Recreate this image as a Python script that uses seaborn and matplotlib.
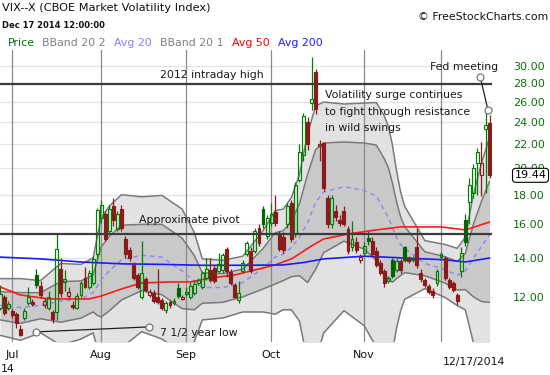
import numpy as np
import pandas as pd
import matplotlib
matplotlib.use("Agg")
import matplotlib.pyplot as plt
import matplotlib.transforms as mtransforms
from matplotlib.ticker import NullLocator, FixedLocator
import seaborn as sns

# ---------------- data ----------------
holidays = ["2014-07-04", "2014-09-01", "2014-11-27"]
dates = [d for d in pd.bdate_range("2014-06-26", "2014-12-17") if d.strftime("%Y-%m-%d") not in holidays]

opens = [11.5, 12.0, 11.5, 11.35, 11.2, 10.55, 11.05, 11.7, 11.75, 13.1,
         12.55, 11.6, 11.5, 11.3, 11.3, 13.4, 12.75, 12.05, 11.6, 11.5,
         12.1, 12.95, 12.5, 12.7, 14.2, 16.4, 16.7, 15.6, 17.2, 15.7,
         17.0, 15.1, 14.45, 13.6, 13.1, 12.0, 12.9, 12.1, 12.2, 12.0,
         11.85, 11.4, 11.75, 11.7, 12.45, 11.9, 12.15, 12.0, 12.2, 12.7,
         12.5, 12.95, 13.35, 13.45, 13.3, 13.35, 14.5, 13.25, 12.6, 11.85,
         13.3, 14.2, 14.4, 14.4, 15.8, 17.0, 15.3, 16.1, 16.8, 15.4,
         15.2, 16.0, 17.4, 15.4, 19.1, 21.1, 24.0, 25.9, 29.3, 21.8,
         22.1, 17.8, 16.0, 16.9, 16.3, 16.9, 15.7, 14.6, 14.9, 13.9,
         14.3, 15.15, 15.0, 14.4, 13.7, 13.3, 12.8, 13.9, 13.35, 13.85,
         14.6, 14.0, 13.9, 14.6, 13.2, 12.85, 12.55, 12.3, 12.7, 14.05,
         14.0, 12.85, 12.7, 12.1, 13.3, 16.3, 17.5, 18.1, 20.4, 19.5,
         23.4, 23.9]
highs = [12.6, 12.1, 11.8, 11.45, 11.3, 10.75, 11.5, 12.5, 11.9, 13.4,
         12.8, 11.95, 12.3, 11.4, 15.4, 14.0, 13.35, 12.5, 11.8, 12.2,
         12.8, 13.5, 13.35, 14.1, 17.1, 17.6, 16.9, 17.3, 17.8, 16.9,
         17.3, 15.3, 14.6, 13.8, 13.2, 15.0, 13.0, 12.4, 12.35, 13.4,
         11.95, 11.8, 11.85, 11.95, 12.7, 12.1, 12.5, 12.75, 12.8, 12.95,
         13.3, 14.0, 14.0, 13.6, 14.3, 14.3, 14.6, 13.4, 12.7, 12.8,
         13.9, 15.0, 14.6, 15.8, 16.0, 17.2, 16.6, 17.4, 18.0, 15.6,
         15.5, 17.4, 17.6, 18.9, 22.0, 24.9, 24.5, 31.06, 29.6, 22.4,
         22.2, 18.0, 18.0, 17.3, 16.6, 17.2, 15.9, 16.2, 15.2, 14.2,
         14.9, 15.6, 15.2, 14.6, 13.9, 13.4, 13.05, 14.0, 14.0, 13.95,
         14.7, 14.1, 14.1, 15.75, 13.4, 12.95, 12.65, 12.45, 13.4, 14.35,
         14.1, 12.95, 12.8, 12.2, 14.6, 16.7, 19.2, 20.3, 21.7, 22.2,
         25.2, 24.7]
lows = [11.4, 11.15, 11.4, 11.05, 10.6, 10.28, 10.95, 11.6, 11.55, 12.45,
        11.95, 11.5, 11.4, 10.8, 10.95, 12.0, 12.3, 11.95, 11.45, 11.45,
        12.0, 12.45, 12.4, 12.6, 13.9, 16.1, 15.0, 15.4, 15.9, 15.6,
        15.6, 14.0, 13.85, 12.85, 12.4, 11.9, 12.25, 12.0, 11.7, 11.65,
        11.4, 11.25, 11.5, 11.6, 11.95, 11.85, 12.05, 11.9, 12.1, 12.6,
        12.4, 12.85, 12.75, 12.7, 13.2, 13.2, 13.0, 12.6, 11.95, 11.7,
        13.2, 14.1, 13.2, 14.3, 14.7, 15.8, 15.1, 15.9, 15.9, 14.4,
        14.3, 15.8, 14.9, 15.2, 18.9, 20.6, 21.5, 25.2, 24.8, 20.6,
        18.3, 15.8, 15.8, 16.2, 15.9, 15.9, 14.2, 14.4, 14.3, 13.75,
        14.1, 14.75, 14.1, 13.5, 13.1, 12.5, 12.7, 12.95, 13.25, 13.2,
        13.8, 13.75, 13.8, 13.45, 12.75, 12.5, 12.15, 11.95, 12.55, 13.9,
        12.85, 12.4, 12.25, 11.6, 13.0, 14.7, 16.0, 17.8, 18.0, 17.9,
        18.1, 19.2]
closes = [12.15, 11.25, 11.65, 11.15, 10.82, 10.32, 11.33, 11.98, 11.65, 12.6,
          12.08, 11.82, 12.0, 11.0, 14.5, 12.2, 12.9, 12.24, 11.52, 12.05,
          12.69, 12.5, 13.2, 13.95, 16.95, 17.3, 15.12, 17.0, 16.3, 16.66,
          15.77, 14.2, 14.0, 12.95, 12.5, 13.2, 12.32, 12.21, 11.78, 11.76,
          11.47, 11.7, 11.63, 11.78, 12.05, 11.98, 12.25, 12.55, 12.64, 12.82,
          13.2, 13.4, 12.85, 12.8, 13.65, 14.15, 13.3, 12.7, 12.0, 12.2,
          13.7, 14.85, 13.3, 15.6, 14.85, 16.0, 16.4, 16.7, 16.1, 14.5,
          14.45, 17.2, 15.1, 18.7, 21.3, 24.6, 22.0, 26.3, 25.3, 22.0,
          18.5, 16.0, 17.8, 16.5, 16.1, 16.0, 14.4, 15.1, 14.45, 14.05,
          14.7, 14.95, 14.2, 13.6, 13.2, 12.7, 12.92, 13.05, 13.85, 13.35,
          13.9, 13.85, 13.96, 13.6, 12.9, 12.6, 12.25, 12.07, 13.3, 14.2,
          12.95, 12.5, 12.35, 11.8, 14.3, 14.9, 18.7, 20.0, 21.3, 20.4,
          23.7, 19.44]

# indicator readings (trading-day index of each reading)
band_idx = [0, 5, 10, 15, 20, 23, 24, 25, 27, 30, 35, 40, 45, 48, 50, 55, 60, 65, 68, 70,
            72, 74, 76, 78, 80, 85, 90, 93, 95, 96, 97, 98, 99, 100, 105, 110, 113, 115,
            117, 119, 121]
avg20 = [11.6, 11.5, 11.6, 11.8, 11.9, 12.2, 12.5, 12.85, 13.3, 13.9, 14.15, 14.05, 13.3, 12.77,
         12.45, 12.45, 12.7, 13.45, 14.05, 14.2, 14.6, 15.2, 16.1, 17.46, 18.2, 18.58, 18.3,
         17.89, 16.9, 16.44, 15.78, 15.2, 14.77, 14.54, 13.7, 13.37, 13.07, 13.3, 14.0, 14.65,
         15.36]
bb2_upper = [12.9, 12.9, 12.8, 13.7, 13.65, 14.0, 15.2, 16.4, 17.2, 18.0, 17.85, 17.95, 17.0,
             15.5, 13.95, 13.87, 14.1, 15.6, 16.9, 17.0, 17.8, 19.5, 22.9, 25.6, 26.0, 25.8,
             25.9, 25.95, 24.6, 23.6, 21.9, 19.8, 18.2, 17.2, 15.0, 14.77, 14.55, 15.2, 18.0,
             20.4, 22.6]
bb2_lower = [10.3, 10.1, 10.4, 9.9, 10.15, 10.4, 9.8, 9.3, 9.4, 9.8, 10.45, 10.15, 9.6, 10.04,
             10.95, 11.03, 11.3, 11.3, 11.2, 11.4, 11.4, 10.9, 9.3, 9.32, 10.4, 11.36, 10.7,
             9.83, 9.2, 9.28, 9.66, 10.6, 11.34, 11.88, 12.4, 11.97, 11.59, 11.4, 10.0, 8.9,
             8.12]
bb1_upper = [12.25, 12.2, 12.2, 12.75, 12.78, 13.1, 13.85, 14.63, 15.25, 15.95, 16.0, 16.0,
             15.15, 14.14, 13.2, 13.16, 13.4, 14.53, 15.48, 15.6, 16.2, 17.35, 19.5, 21.53,
             22.1, 22.19, 22.1, 21.92, 20.75, 20.02, 18.84, 17.5, 16.49, 15.87, 14.35, 14.07,
             13.81, 14.25, 16.0, 17.53, 18.98]
bb1_lower = [10.95, 10.8, 11.0, 10.85, 11.03, 11.3, 11.15, 11.08, 11.35, 11.85, 12.3, 12.1,
             11.45, 11.4, 11.7, 11.74, 12.0, 12.38, 12.63, 12.8, 13.0, 13.05, 12.7, 13.39,
             14.3, 14.97, 14.5, 13.86, 13.05, 12.86, 12.72, 12.9, 13.06, 13.21, 13.05, 12.67,
             12.33, 12.35, 12.0, 11.78, 11.74]

avg50_idx = [0, 5, 12, 22, 25, 30, 35, 42, 47, 52, 58, 63, 68, 72, 74, 77, 80, 86, 93, 99, 109, 115, 121]
avg50 = [12.48, 12.09, 11.9, 11.9, 12.04, 12.38, 12.68, 12.73, 12.73, 12.93, 13.09, 13.35, 13.62,
         13.95, 14.23, 14.69, 15.1, 15.4, 15.65, 15.84, 15.84, 15.65, 16.15]

avg200_idx = [0, 10, 20, 30, 40, 50, 60, 70, 75, 80, 90, 100, 105, 110, 115, 121]
avg200 = [14.05, 13.95, 13.78, 13.68, 13.65, 13.6, 13.6, 13.62, 13.75, 13.95, 14.1, 14.0, 13.95,
          13.9, 13.78, 14.0]

intraday_high_2012 = 27.9
pivot_level = 15.42
last_price = 19.44
y_ticks = [12, 14, 16, 18, 20, 22, 24, 26, 28, 30]
month_labels = ["Jul", "Aug", "Sep", "Oct", "Nov"]
fed_pts_idx = [118.7, 120.6]
fed_pts_val = [28.72, 25.19]
low_pts_idx = [8.9, 36.8]
low_pts_val = [10.44, 10.65]

# ---------------- styling ----------------
sns.set_theme(style="white")
plt.rcParams["font.family"] = ["DejaVu Sans"]

W, H = 550, 375
fig = plt.figure(figsize=(5.5, 3.75), dpi=100)
fig.patch.set_facecolor("white")
ax = fig.add_axes([0, 1 - 342 / H, 492 / W, 292 / H])
ax.set_facecolor("white")
ax.set_yscale("log")
ax.set_ylim(10.03, 31.97)
ax.set_xlim(-0.02, 121.6)
for s in ax.spines.values():
    s.set_visible(False)

def fx(px):
    return px / W

def fy(py):
    return 1 - py / H

# grid
for v in y_ticks:
    ax.axhline(v, color="#e4e4e4", lw=0.9, zorder=0.3)

# bands
ax.fill_between(band_idx, bb2_lower, bb2_upper, color="#e2e2e2", lw=0, zorder=0.5)
ax.fill_between(band_idx, bb1_lower, bb1_upper, color="#c9c9c9", lw=0, zorder=0.6)
for arr in (bb2_upper, bb2_lower, bb1_upper, bb1_lower):
    sns.lineplot(x=band_idx, y=arr, ax=ax, color="#7a7a7a", lw=1.1, zorder=1.0,
                 estimator=None, legend=False)

# month separators
month_idx = []
prev_m = None
for i, d in enumerate(dates):
    if d.month != prev_m and i > 0:
        month_idx.append(i)
    prev_m = d.month
for m in month_idx:
    ax.axvline(m, color="#8a8a8a", lw=0.9, zorder=0.9)

# moving averages
sns.lineplot(x=band_idx, y=avg20, ax=ax, color="#8c8cf5", lw=1.1, linestyle=(0, (3, 2.5)),
             zorder=2, estimator=None, legend=False)
sns.lineplot(x=avg50_idx, y=avg50, ax=ax, color="#ff1a1a", lw=1.2, zorder=2.1,
             estimator=None, legend=False)
sns.lineplot(x=avg200_idx, y=avg200, ax=ax, color="#1a1aff", lw=1.2, zorder=2.1,
             estimator=None, legend=False)

# candles
GREEN = "#008000"
GREEN_F = "#006400"
RED = "#8b1a1a"
for i in range(len(closes)):
    o, h, l, c = opens[i], highs[i], lows[i], closes[i]
    up = True if i == 0 else c >= closes[i - 1]
    filled = c < o
    col = (GREEN_F if filled else GREEN) if up else RED
    top, bot = max(o, c), min(o, c)
    ax.vlines(i, top, h, color=col, lw=0.9, zorder=3)
    ax.vlines(i, l, bot, color=col, lw=0.9, zorder=3)
    if top - bot < 0.04:
        ax.hlines(c, i - 0.35, i + 0.35, color=col, lw=1.0, zorder=3.1)
    ax.bar(i, top - bot, bottom=bot, width=0.72, facecolor=col if filled else "none",
           edgecolor=col, linewidth=0.85, zorder=3.1)

# horizontal levels
ax.axhline(intraday_high_2012, color="#3c3c3c", lw=1.6, zorder=4)
ax.axhline(pivot_level, color="#3c3c3c", lw=1.6, zorder=4)

# annotation connectors
ax.plot(fed_pts_idx, fed_pts_val, color="#202020", lw=0.9, zorder=5)
ax.plot(fed_pts_idx, fed_pts_val, "o", ms=5, mfc="white", mec="#777777", mew=0.9, zorder=5.1)
ax.plot(low_pts_idx, low_pts_val, color="#202020", lw=0.9, zorder=5)
ax.plot(low_pts_idx, low_pts_val, "o", ms=5, mfc="white", mec="#777777", mew=0.9, zorder=5.1)

# y axis on right
ax.yaxis.tick_right()
ax.yaxis.set_minor_locator(NullLocator())
ax.yaxis.set_major_locator(FixedLocator(y_ticks))
ax.set_yticklabels([f"{v:.2f}" for v in y_ticks])
ax.tick_params(axis="y", length=0, pad=15, labelsize=8, labelcolor="#0a6e0a")

# x axis
ax.set_xticks(month_idx[:len(month_labels)])
ax.set_xticklabels(month_labels)
ax.tick_params(axis="x", length=0, pad=6, labelsize=8, labelcolor="#111111")
ax.xaxis.set_minor_locator(NullLocator())

# last price box
trans = mtransforms.blended_transform_factory(ax.transAxes, ax.transData)
ax.text(530.5 / 492, last_price, f"{last_price:.2f}", transform=trans, ha="center", va="center",
        fontsize=8, color="black", clip_on=False, zorder=20,
        bbox=dict(boxstyle="round,pad=0.18,rounding_size=0.3", fc="white", ec="black", lw=0.8))

# header texts
fig.text(fx(2), fy(8), "VIX--X (CBOE Market Volatility Index)", fontsize=8.2, va="center",
         ha="left", color="#111111")
fig.text(fx(2), fy(25), "Dec 17 2014 12:00:00", fontsize=6.0, fontweight="bold", va="center",
         ha="left", color="#111111")
fig.text(fx(548), fy(17), "\u00a9 FreeStockCharts.com", fontsize=7.8, va="center", ha="right",
         color="#111111")
legend_items = [("Price", "#0a6e0a", 8), ("BBand 20 2", "#808080", 42), ("Avg 20", "#8080ff", 114),
                ("BBand 20 1", "#808080", 160), ("Avg 50", "#ff0000", 232), ("Avg 200", "#2020ff", 278)]
for txt, colr, px in legend_items:
    fig.text(fx(px), fy(43), txt, fontsize=7.9, color=colr, va="center", ha="left")

# in-plot annotations
ann = dict(fontsize=7.8, color="#1a1a1a", va="center", ha="left", zorder=30)
fig.text(fx(160), fy(75), "2012 intraday high", **ann)
fig.text(fx(139), fy(220), "Approximate pivot", **ann)
fig.text(fx(325), fy(95), "Volatility surge continues", **ann)
fig.text(fx(325), fy(112), "to fight through resistance", **ann)
fig.text(fx(325), fy(128), "in wild swings", **ann)
fig.text(fx(430), fy(67), "Fed meeting", **ann)
fig.text(fx(160), fy(333), "7 1/2 year low", **ann)
fig.text(fx(474), fy(362), "12/17/2014", fontsize=7.8, color="#111111", va="center", ha="center")
fig.text(fx(1), fy(369), "14", fontsize=7.8, color="#111111", va="center", ha="left")

fig.savefig("out.png", dpi=100, facecolor="white")
